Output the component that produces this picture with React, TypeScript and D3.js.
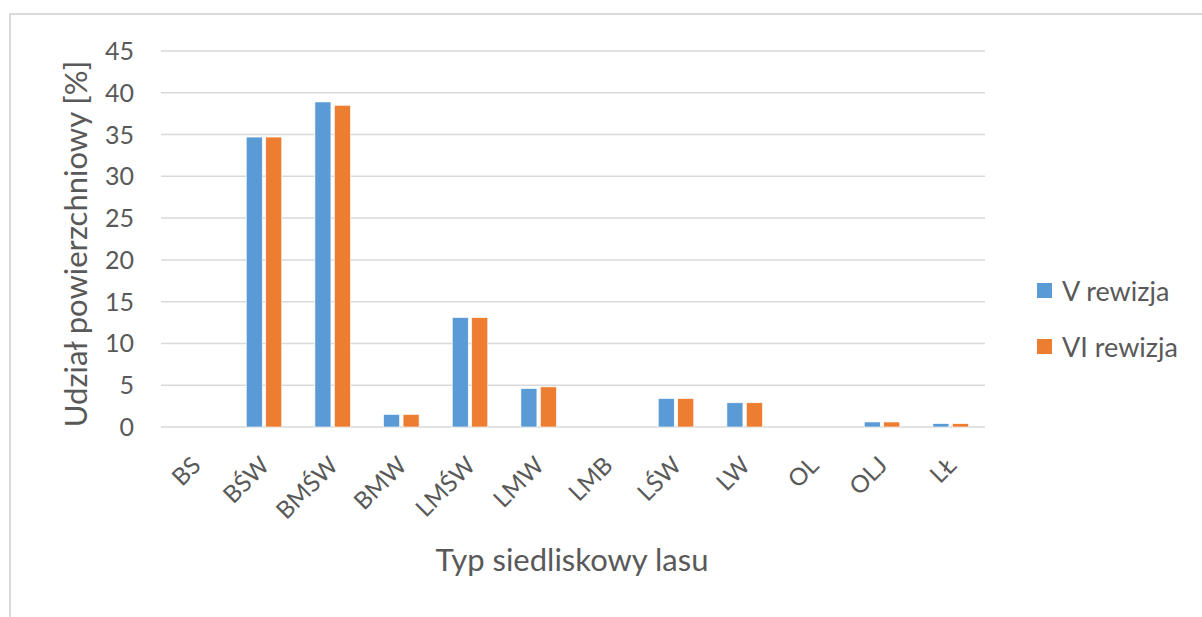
import React from "react";
import * as d3 from "d3";

// Categories (forest site types)
const categories = ["BS", "BŚW", "BMŚW", "BMW", "LMŚW", "LMW", "LMB", "LŚW", "LW", "OL", "OLJ", "LŁ"];
// Share of area [%] for each revision
const rewizjaV = [0, 34.7, 38.9, 1.5, 13.1, 4.6, 0, 3.4, 2.9, 0, 0.6, 0.4];
const rewizjaVI = [0, 34.7, 38.5, 1.5, 13.1, 4.8, 0, 3.4, 2.9, 0, 0.6, 0.4];
const seriesNames = ["V rewizja", "VI rewizja"];
const yTicks = [0, 5, 10, 15, 20, 25, 30, 35, 40, 45];

const colors = ["#5B9BD5", "#ED7D31"];
const textColor = "#595959";
const gridColor = "#d9d9d9";
const font = "Lato, Carlito, Calibri, sans-serif";

const width = 1202,
  height = 617;
const plot = { left: 161, right: 985, top: 51, bottom: 427 };

export default function App() {
  // Scales
  const x = d3.scaleBand().domain(categories).range([plot.left, plot.right]);
  const y = d3.scaleLinear().domain([0, 45]).range([plot.bottom, plot.top]);
  const series = [rewizjaV, rewizjaVI];

  const barWidth = 16,
    barGap = 3.5;
  const groupWidth = barWidth * 2 + barGap;

  return (
    <svg
      width={width}
      height={height}
      style={{ position: "absolute", left: 0, top: 0, background: "#fff" }}
      fontFamily={font}
    >
      {/* Chart border */}
      <rect x={10} y={14} width={1220} height={640} fill="#fff" stroke={gridColor} strokeWidth={2} />

      {/* Gridlines and y tick labels */}
      {yTicks.map((t) => (
        <g key={t}>
          <line x1={plot.left} x2={plot.right} y1={y(t)} y2={y(t)} stroke={gridColor} strokeWidth={1.5} />
          <text x={134} y={y(t)} dy="0.36em" textAnchor="end" fontSize={25} fill={textColor}>
            {t}
          </text>
        </g>
      ))}

      {/* Bars */}
      {categories.map((c, i) => {
        const cx = x(c)! + x.bandwidth() / 2;
        const start = cx - groupWidth / 2;
        return series.map((s, j) =>
          s[i] > 0 ? (
            <rect
              key={c + j}
              x={start + j * (barWidth + barGap)}
              y={y(s[i])}
              width={barWidth}
              height={y(0) - y(s[i])}
              fill={colors[j]}
              stroke="#fff"
              strokeWidth={0.6}
            />
          ) : null
        );
      })}

      {/* X category labels */}
      {categories.map((c) => {
        const cx = x(c)! + x.bandwidth() / 2;
        return (
          <text
            key={c}
            transform={`translate(${cx + 1},${461}) rotate(-45)`}
            textAnchor="end"
            dy="0.35em"
            fontSize={24}
            fill={textColor}
          >
            {c}
          </text>
        );
      })}

      {/* Axis titles */}
      <text x={572} y={571} textAnchor="middle" fontSize={31} fill={textColor}>
        Typ siedliskowy lasu
      </text>
      <text
        transform={`translate(87,${244}) rotate(-90)`}
        textAnchor="middle"
        fontSize={31}
        fill={textColor}
      >
        Udział powierzchniowy [%]
      </text>

      {/* Legend */}
      {seriesNames.map((n, i) => (
        <g key={n} transform={`translate(1037,${283 + i * 56})`}>
          <rect width={15} height={15} fill={colors[i]} />
          <text x={25} y={8} dy="0.36em" fontSize={27} fill={textColor}>
            {n}
          </text>
        </g>
      ))}
    </svg>
  );
}
